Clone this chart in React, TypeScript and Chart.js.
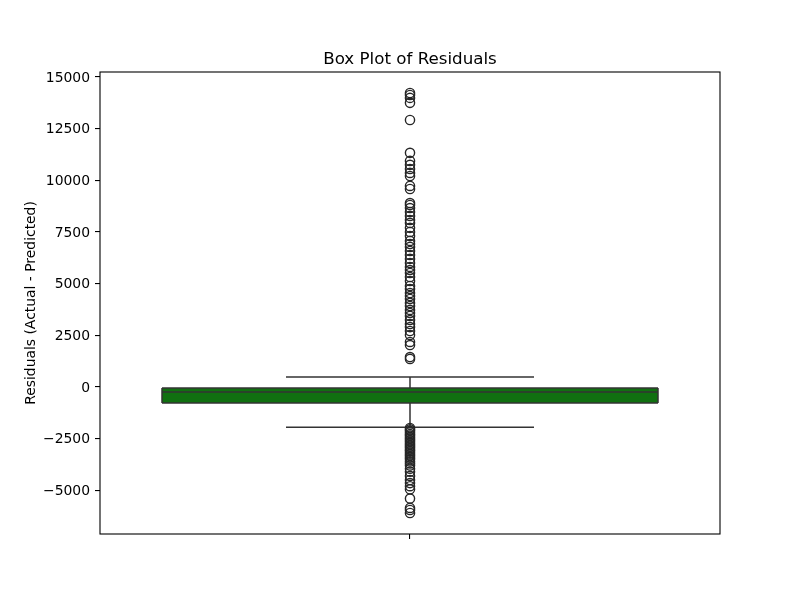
import React, { useEffect, useRef } from "react";
import { Chart, registerables } from "chart.js";

Chart.register(...registerables);

const titleText = "Box Plot of Residuals";
const yAxisLabel = "Residuals (Actual - Predicted)";
const yTicks = [-5000, -2500, 0, 2500, 5000, 7500, 10000, 12500, 15000];
const xTicks = [0];

// box statistics
const q1 = -775;
const median = -240;
const q3 = -50;
const whiskerLow = -1950;
const whiskerHigh = 484;

const upperOutliers = [
  14226, 14130, 13990, 13750, 12920, 11330, 10940, 10750, 10550, 10360, 10210,
  9730, 9580, 8900, 8810, 8660, 8470, 8280, 8080, 7940, 7700, 7500, 7310, 7070,
  6920, 6780, 6580, 6390, 6200, 6000, 5810, 5660, 5520, 5320, 5130, 4890, 4740,
  4550, 4400, 4260, 4070, 3920, 3730, 3580, 3440, 3240, 3050, 2900, 2710, 2520,
  2180, 2030, 1450, 1360,
];
const lowerOutliers = [
  -1980, -2050, -2120, -2200, -2280, -2350, -2430, -2500, -2580, -2650, -2730,
  -2800, -2880, -2950, -3030, -3100, -3180, -3260, -3340, -3420, -3500, -3600,
  -3700, -3800, -3950, -4100, -4300, -4500, -4650, -4800, -4950, -5400, -5850,
  -5950, -6096,
];

const Y_MIN = -7112;
const Y_MAX = 15242;

const LINE = "#333333";
const BOX_FILL = "#107010";
const FONT = "'DejaVu Sans', sans-serif";

const framePlugin = {
  id: "frame",
  afterDatasetsDraw(chart: any) {
    const { ctx, chartArea } = chart;
    ctx.save();
    ctx.strokeStyle = "#000";
    ctx.lineWidth = 1.1;
    ctx.strokeRect(chartArea.left, chartArea.top, chartArea.right - chartArea.left, chartArea.bottom - chartArea.top);
    ctx.fillStyle = "#000";
    ctx.font = `16.7px ${FONT}`;
    ctx.textAlign = "center";
    ctx.textBaseline = "alphabetic";
    ctx.fillText(titleText, (chartArea.left + chartArea.right) / 2, chartArea.top - 8);
    ctx.restore();
  },
};

function seg(a: [number, number], b: [number, number], extra: any = {}) {
  return {
    type: "scatter",
    data: [
      { x: a[0], y: a[1] },
      { x: b[0], y: b[1] },
    ],
    showLine: true,
    borderColor: LINE,
    borderWidth: 1.5,
    pointRadius: 0,
    fill: false,
    ...extra,
  };
}

export default function App() {
  const ref = useRef<HTMLCanvasElement | null>(null);

  useEffect(() => {
    if (!ref.current) return;
    const outliers = [...upperOutliers, ...lowerOutliers].map((v) => ({ x: 0, y: v }));
    const datasets: any[] = [
      {
        type: "scatter",
        data: outliers,
        pointStyle: "circle",
        pointRadius: 4.6,
        borderColor: "#262626",
        borderWidth: 1.4,
        backgroundColor: "rgba(0,0,0,0)",
        order: 0,
      },
      seg([-0.4, q3], [0.4, q3], { fill: "+1", backgroundColor: BOX_FILL, order: 5 }),
      seg([-0.4, q1], [0.4, q1], { order: 4 }),
      seg([-0.4, q1], [-0.4, q3], { order: 3 }),
      seg([0.4, q1], [0.4, q3], { order: 3 }),
      seg([-0.4, median], [0.4, median], { order: 2 }),
      seg([0, q3], [0, whiskerHigh], { order: 2 }),
      seg([0, q1], [0, whiskerLow], { order: 2 }),
      seg([-0.2, whiskerHigh], [0.2, whiskerHigh], { order: 2 }),
      seg([-0.2, whiskerLow], [0.2, whiskerLow], { order: 2 }),
    ];

    const chart = new Chart(ref.current, {
      type: "scatter",
      data: { datasets },
      plugins: [framePlugin],
      options: {
        animation: false,
        responsive: false,
        devicePixelRatio: 1,
        layout: { padding: { left: 0, right: 80, top: 72, bottom: 0 } },
        plugins: {
          legend: { display: false },
          tooltip: { enabled: false },
          title: { display: false },
        },
        scales: {
          x: {
            type: "linear",
            min: -0.5,
            max: 0.5,
            border: { display: false },
            grid: { drawOnChartArea: false, drawTicks: true, tickLength: 5, color: "#000", lineWidth: 1.1 },
            afterBuildTicks: (scale: any) => {
              scale.ticks = xTicks.map((v) => ({ value: v }));
            },
            ticks: {
              callback: () => "",
              font: { family: FONT, size: 13.9 },
            },
            afterFit: (scale: any) => {
              scale.height = 66;
            },
          },
          y: {
            type: "linear",
            min: Y_MIN,
            max: Y_MAX,
            border: { display: false },
            grid: { drawOnChartArea: false, drawTicks: true, tickLength: 5, color: "#000", lineWidth: 1.1 },
            afterBuildTicks: (scale: any) => {
              scale.ticks = yTicks.map((v) => ({ value: v }));
            },
            ticks: {
              color: "#000",
              padding: 5,
              labelOffset: 1,
              font: { family: FONT, size: 13.9 },
              callback: (v: any) => {
                const n = Number(v);
                return n < 0 ? "\u2212" + Math.abs(n) : String(n);
              },
            },
            title: {
              display: true,
              text: yAxisLabel,
              color: "#000",
              font: { family: FONT, size: 13.9 },
              padding: { top: 23, bottom: 0 },
            },
            afterFit: (scale: any) => {
              scale.width = 100;
            },
          },
        },
      } as any,
    } as any);
    return () => chart.destroy();
  }, []);

  return (
    <div style={{ position: "fixed", left: 0, top: 0, width: 800, height: 600, background: "#fff" }}>
      <canvas ref={ref} width={800} height={600} />
    </div>
  );
}
